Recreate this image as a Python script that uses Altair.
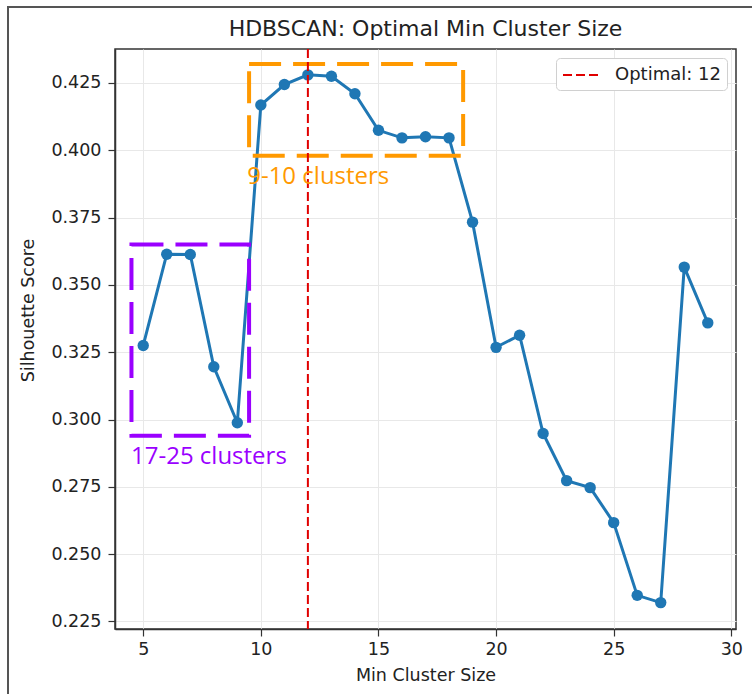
import altair as alt
import pandas as pd

# ---- data ----
min_cluster_size = list(range(5, 30))
silhouette = [0.3275, 0.3614, 0.3613, 0.3196, 0.2988, 0.4168, 0.4244, 0.4280, 0.4275, 0.4210,
              0.4074, 0.4046, 0.4050, 0.4046, 0.3733, 0.3268, 0.3313, 0.2948, 0.2773, 0.2747,
              0.2617, 0.2347, 0.2320, 0.3566, 0.3359]
optimal_value = [12]
optimal_label = ["Optimal: 12"]

box_labels = ["9-10 clusters", "17-25 clusters"]
box_x1 = [9.5, 4.5]
box_x2 = [18.6, 9.5]
box_y1 = [0.398, 0.294]
box_y2 = [0.432, 0.365]
box_colors = ["#ff9900", "#9a00ff"]
text_x = [9.42, 4.48]
text_y = [0.390, 0.286]

x_ticks = [5, 10, 15, 20, 25, 30]
y_ticks = [0.225, 0.25, 0.275, 0.3, 0.325, 0.35, 0.375, 0.4, 0.425]

df = pd.DataFrame({"size": min_cluster_size, "score": silhouette})
rule_df = pd.DataFrame({"x": optimal_value, "label": optimal_label})
box_df = pd.DataFrame({"x1": box_x1, "x2": box_x2, "y1": box_y1, "y2": box_y2,
                       "color": box_colors, "label": box_labels, "tx": text_x, "ty": text_y})

FONT = "DejaVu Sans"
xscale = alt.Scale(domain=[3.8, 30.2], nice=False, zero=False)
yscale = alt.Scale(domain=[0.2222, 0.4376], nice=False, zero=False)

x_axis = alt.Axis(values=x_ticks, format="d", title="Min Cluster Size",
                  titleY=46, titleBaseline="middle")
y_axis = alt.Axis(values=y_ticks, format=".3f", title="Silhouette Score",
                  titleX=-87, titleY=261, titleAlign="center", titleBaseline="middle",
                  labelPadding=7)

border = alt.Chart(pd.DataFrame({"k": [0]})).mark_rect(
    filled=False, stroke="#555555", strokeWidth=2, clip=False
).encode(x=alt.value(-107), x2=alt.value(720), y=alt.value(-42), y2=alt.value(720))

line = alt.Chart(df).mark_line(color="#1f77b4", strokeWidth=3).encode(
    x=alt.X("size:Q", scale=xscale, axis=x_axis),
    y=alt.Y("score:Q", scale=yscale, axis=y_axis),
)
points = alt.Chart(df).mark_circle(color="#1f77b4", size=130, opacity=1).encode(
    x=alt.X("size:Q", scale=xscale),
    y=alt.Y("score:Q", scale=yscale),
)

rule = alt.Chart(rule_df).mark_rule(strokeDash=[9, 4], strokeWidth=2).encode(
    x=alt.X("x:Q", scale=xscale),
    color=alt.Color("label:N", scale=alt.Scale(domain=optimal_label, range=["#e00000"]),
                    legend=alt.Legend(orient="top-right", title=None, offset=9, padding=6,
                                      fillColor="white", strokeColor="#d0d0d0", cornerRadius=4,
                                      symbolType="M-1.8,0H1.8", symbolSize=400,
                                      symbolStrokeWidth=2, symbolDash=[9, 4], symbolOffset=8,
                                      labelFontSize=18, labelFont=FONT,
                                      labelColor="#222222", labelOffset=23)),
)

boxes = alt.Chart(box_df).mark_rect(filled=False, strokeWidth=4, strokeDash=[32, 12]).encode(
    x=alt.X("x1:Q", scale=xscale), x2="x2:Q",
    y=alt.Y("y1:Q", scale=yscale), y2="y2:Q",
    stroke=alt.Stroke("color:N", scale=None),
)

texts = alt.Chart(box_df).mark_text(align="left", baseline="middle", fontSize=24, font="Open Sans").encode(
    x=alt.X("tx:Q", scale=xscale),
    y=alt.Y("ty:Q", scale=yscale),
    text="label:N",
    fill=alt.Fill("color:N", scale=None),
)

chart = alt.layer(border, line, points, boxes, rule, texts).properties(
    width=621, height=580,
    title=alt.Title("HDBSCAN: Optimal Min Cluster Size", fontSize=22, font=FONT,
                    fontWeight="normal", color="#222222", offset=11, frame="group", dy=46),
    autosize=alt.AutoSizeParams(type="none"),
    padding={"left": 115, "top": 49, "right": 16, "bottom": 65},
).configure_view(stroke="#333333", strokeWidth=1.5).configure_axis(
    labelFont=FONT, labelFontSize=17.5, labelColor="#222222",
    titleFont=FONT, titleFontSize=17.5, titleColor="#222222", titleFontWeight="normal",
    domainColor="#333333", domainWidth=1.5, tickColor="#333333", tickWidth=1.2, tickSize=7,
    labelPadding=4, gridColor="#e8e8e8", gridWidth=1,
)

chart.save("out.html", embed_options={"renderer": "svg", "actions": False})
